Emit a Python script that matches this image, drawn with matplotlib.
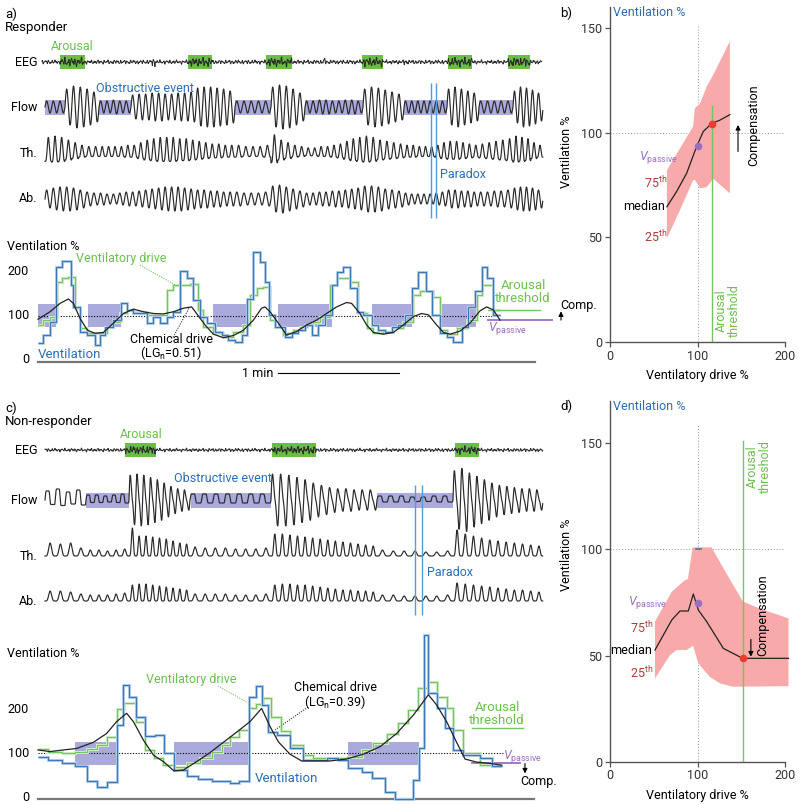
import numpy as np
import matplotlib.pyplot as plt

plt.rcParams['font.family'] = ['Roboto', 'DejaVu Sans']
plt.rcParams['font.size'] = 8.5
plt.rcParams['mathtext.fontset'] = 'custom'
plt.rcParams['mathtext.rm'] = 'Roboto'
plt.rcParams['mathtext.it'] = 'Roboto:italic'

BLUE = '#2f6db3'
BLUE_LINE = '#3b78b4'
BLUE_HALO = '#bcd4ec'
GREEN = '#6cc04f'
GREEN_LINE = '#74c462'
GREEN_HALO = '#d2ecc8'
GREEN_BOX = '#6abd45'
PURPLE = '#9a6fc2'
PURPLE_BOX = '#aaaadc'
PINK = '#f7aaa9'
RED = '#ee3b2f'
DARKRED = '#a8403a'
TRACE = '#2a2a2a'
PARADOX = '#5b9bd5'

# ---------------- data: panel a (responder) ----------------
# time in s (2 px per s on the page)
seg_a = [3.5, 13.5, 30.5, 46.5, 98.5, 116.5, 133.5, 162.5, 183, 204.5, 220.5, 237.5, 252.5]
flow_a_amp = [[6, 6, 6], [18, 21, 20, 18, 15], [6, 6, 7, 6, 6],
              [12, 13, 13, 14, 14, 13, 13, 14, 14, 15, 19, 20, 20, 19, 18, 16],
              [6, 6, 6, 6, 6], [20, 22, 21, 18, 14], [6, 6, 7, 7, 6, 6, 7, 7, 6],
              [18, 20, 19, 17, 15, 13], [6, 6, 6, 6, 6, 6, 6], [18, 20, 18, 16, 14],
              [6, 6, 6, 6, 6], [16, 20, 19, 17, 14]]
th_a_amp = [[12, 13, 12], [10, 8, 6, 5, 5], [5, 5, 5, 5, 6],
            [6, 8, 10, 11, 12, 12, 12, 11, 11, 10, 9, 8, 7, 7, 6, 6],
            [6, 5, 5, 5, 6], [14, 10, 8, 6, 5], [4, 4, 5, 5, 6, 7, 9, 11, 12],
            [13, 12, 10, 9, 8, 7], [6, 6, 5, 5, 5, 6, 8], [9, 9, 8, 7, 6],
            [7, 8, 9, 10, 11], [13, 12, 11, 8, 6]]
ab_a_amp = [[9, 11, 12], [12, 11, 9, 7, 6], [6, 5, 5, 6, 7],
            [7, 8, 9, 10, 11, 12, 12, 12, 11, 10, 9, 9, 8, 8, 7, 7],
            [7, 6, 6, 6, 7], [13, 14, 12, 10, 8], [6, 6, 7, 7, 8, 8, 9, 10, 11],
            [13, 13, 12, 10, 9, 8], [6, 5, 5, 5, 5, 6, 7], [9, 9, 8, 8, 7],
            [7, 7, 8, 8, 9], [11, 12, 12, 11, 9]]
arousal_a = [(11, 23.5), (75, 87), (114, 127), (162, 172.5), (205, 217), (235, 246)]
eeg_a_spikes = [(57, 58.5), (142, 143.5), (183, 184.5)]
obstr_a = [(3.5, 13.5), (30.5, 46.5), (98.5, 116.5), (133.5, 162.5), (183, 204.5), (220.5, 237.5)]
paradox_a = [196.5, 199]

vent_a_edges = [0, 2.7, 6, 9, 12.2, 16.5, 17.7, 21, 24.7, 28.5, 31, 33.5, 37.7, 41.3, 44.3, 47.7,
                54.3, 57.7, 61, 64.3, 67.7, 71, 74.3, 77.7, 81, 84.3, 88.5, 91.8, 95.2, 98.5,
                101.8, 104.3, 107.7, 111, 113.5, 115.7, 118.5, 123.5, 126.8, 130.2, 133.5, 136.8,
                140.2, 143.5, 146.8, 149.3, 152.7, 156, 159.3, 162.7, 166.8, 170.2, 173.5, 176.8,
                180.2, 183.5, 186.8, 190.2, 193.8, 196.8, 201, 204.3, 207.7, 211.8, 215.2, 218.5,
                221.8, 224.3, 227.7, 231]
vent_a = [37, 56, 86, 211, 224, 170, 120, 64, 56, 33, 56, 75, 90, 128, 113, 105, 83, 98, 83, 98,
          109, 202, 185, 136, 98, 83, 64, 56, 45, 41, 56, 139, 245, 223, 177, 101, 75, 52, 60, 67,
          79, 56, 79, 102, 170, 200, 211, 162, 109, 102, 79, 67, 62, 75, 79, 102, 162, 200, 155, 102,
          60, 52, 41, 75, 120, 155, 211, 185, 102]
drive_a_edges = [0, 2.7, 6, 9.3, 12.2, 15.2, 18.5, 21, 24.7, 28.5, 34.3, 37.7, 41, 44.3, 47.7, 54.3,
                 64.3, 67.7, 76, 80.2, 82.7, 87.7, 92.7, 97.7, 102.7, 106, 109.3, 112.7, 116, 118.5,
                 122.7, 124.3, 127.7, 131, 134.3, 137.7, 141, 146, 149.3, 156, 160.2, 164.3, 167.7,
                 172.7, 177.7, 182.7, 187.7, 191, 197.7, 201, 204.3, 209.3, 214.3, 219.3, 221.8,
                 227.7, 231]
drive_a = [79, 90, 98, 177, 185, 189, 117, 71, 60, 60, 75, 86, 105, 113, 109, 102, 158, 170, 171, 113,
           75, 60, 52, 64, 79, 147, 164, 166, 90, 75, 56, 60, 67, 75, 79, 86, 98, 170, 185, 177,
           105, 71, 60, 64, 71, 86, 147, 155, 143, 67, 58, 71, 90, 147, 170, 113]
chem_a_t = [0, 6, 11, 15.2, 17.7, 21, 24.7, 28.5, 32.7, 37.7, 42.7, 47.7, 52.7, 57.7, 62.7, 67.7,
            72.7, 76.8, 79.3, 83.5, 87.7, 92.7, 97.7, 102.7, 107.7, 111.8, 113.5, 116, 120.2, 124.3,
            129.3, 134.3, 139.3, 144.3, 149.3, 154.3, 156.8, 161, 164.3, 167.7, 172.7, 177.7, 182.7,
            187.7, 191.8, 195.2, 199.3, 202.7, 206, 211, 216, 221, 224.3, 227.7, 231]
chem_a = [92, 109, 128, 138, 128, 94, 67, 60, 62, 83, 105, 115, 109, 105, 104, 109, 117, 120, 105, 79,
          58, 50, 55, 67, 90, 117, 120, 109, 83, 56, 64, 79, 90, 105, 120, 130, 128, 105, 79, 62,
          58, 62, 79, 98, 105, 102, 79, 62, 58, 65, 83, 111, 120, 113, 90]
vobstr_a = [(0, 9), (25.2, 41.3), (87.7, 104.3), (120.2, 146.8), (166.8, 187.2), (201.8, 219)]
arousal_thr_a = 113
vpassive_a = 90

# ---------------- data: panel c (non-responder) ----------------
seg_c = [3.5, 24, 45.5, 76, 116.5, 169.5, 207.5, 252.5]
flow_c_kind = ['flat', 'flat', 'peak', 'flat', 'peak', 'flat', 'peak']
flow_c_amp = [[9, 11, 8, 10], [5, 5, 4, 5, 6], [22, 23, 22, 20, 18, 15, 12, 10, 9],
              [6, 6, 6, 6, 6, 6, 6], [23, 23, 22, 20, 18, 15, 13, 11, 10, 10, 9, 9, 9],
              [4, 4, 4, 3, 3, 4, 4], [26, 28, 24, 21, 18, 15, 13, 12, 11, 10, 10, 9]]
th_c_amp = [[13, 12, 13, 8], [6, 6, 5, 6, 7], [28, 20, 20, 19, 18, 17, 15, 13, 12],
            [9, 8, 8, 8, 7, 7, 7, 8], [22, 22, 21, 20, 19, 18, 17, 16, 15, 14, 13, 12, 11, 10],
            [6, 5, 5, 5, 4, 4, 5], [26, 22, 20, 18, 16, 15, 14, 13, 12, 11, 10]]
ab_c_amp = [[10, 10, 9, 7], [6, 6, 6, 7, 8], [16, 17, 17, 16, 15, 14, 13, 12, 11],
            [7, 7, 7, 7, 6, 6, 6, 7], [16, 17, 17, 16, 16, 15, 14, 13, 12, 11, 11, 10, 10, 9],
            [6, 6, 5, 5, 5, 5, 6], [18, 17, 16, 15, 14, 13, 12, 11, 11, 10, 9]]
arousal_c = [(43.5, 59), (117, 139), (208.5, 220.5)]
obstr_c = [(24, 45.5), (76.5, 116.5), (169.5, 207.5)]
paradox_c = [188.5, 192]

vent_c_edges = [0, 5.2, 11.8, 18.5, 24.3, 29.3, 34.7, 39.7, 42.3, 45.7, 49, 53.5, 58.5, 63, 68, 74.3,
                80.2, 86.8, 91.8, 96, 100.7, 105.7, 109, 111.8, 115.2, 119.3, 126, 132.7, 137.7,
                144.3, 150.2, 155.2, 161.8, 166.8, 173.5, 178.5, 187.7, 190.7, 193, 195.2, 199.3,
                203.5, 207.7, 212.7, 221, 226.8, 231.8]
vent_c = [91, 85, 77, 71, 36, 24, 34, 164, 255, 229, 183, 139, 142, 100, 62, 49, 41, 36, 37, 32,
          36, 229, 253, 210, 149, 142, 111, 85, 85, 90, 85, 66, 58, 45, 13, -4, 39, 111, 368, 236,
          202, 157, 108, 96, 89, 71]
drive_c_edges = [0, 5.2, 11.8, 18.5, 24.3, 29.3, 34.7, 39.7, 43, 49, 53.5, 58, 62.7, 68, 74.3, 81,
                 86.8, 91.8, 96, 100.7, 105.7, 109, 112.3, 116.3, 121.3, 126, 132.7, 137.7, 154.3,
                 161.8, 167.7, 174.3, 180.2, 185.2, 190.2, 195.2, 199.3, 204.3, 207.7, 212.7, 221,
                 231.8]
drive_c = [110, 104, 100, 104, 110, 119, 138, 200, 214, 172, 108, 89, 73, 70, 77, 90, 104, 119, 136,
           153, 202, 211, 225, 183, 150, 120, 96, 89, 92, 108, 123, 145, 168, 198, 249, 261, 229,
           202, 153, 100, 73]
chem_c_t = [0, 6, 12.7, 19.3, 27.7, 34.3, 39.3, 44.3, 47.7, 52.7, 57.7, 62.7, 68, 72.7, 79.3, 86,
            92.7, 99.3, 106, 111.8, 116, 120.2, 126, 131.8, 137.7, 146, 154.3, 162.7, 171, 179.3,
            187.7, 195.2, 199.3, 204.3, 209.3, 213.5, 219.3, 226, 231.8]
chem_c = [107.6, 104, 107.6, 111, 125, 145, 172, 191, 172, 130, 96, 81, 60, 62, 81, 101.5, 125, 148,
          172, 202, 161, 126, 98, 82.6, 82.6, 82.6, 87, 98, 115, 145, 187, 233, 210, 172, 125, 87,
          80, 77, 73]
vobstr_c = [(18.5, 39), (68, 105.5), (155, 190.5)]
arousal_thr_c = 158
vpassive_c = 77

# ---------------- data: panels b and d ----------------
b_up_x = [65, 95, 97, 103, 110.5, 118, 137]
b_up_y = [82, 103, 111.6, 114, 122, 127.6, 143.6]
b_lo_x = [65, 80, 95, 97, 103, 110.5, 118, 137]
b_lo_y = [49.5, 63, 77.3, 77.5, 73.4, 74, 78, 71]
b_med_x = [65, 76, 87.6, 99, 106.7, 116, 125.7, 137]
b_med_y = [64.6, 71.8, 80.6, 93.4, 100.6, 104.3, 106, 108.6]
b_vpass = (100, 93.4)
b_arousal = (116.2, 104)

d_up_x = [51.4, 70.5, 85.7, 89, 94.5, 116, 133, 152, 171, 204]
d_up_y = [66, 80, 85.6, 86, 101, 101, 88.7, 75.4, 72.2, 67.5]
d_lo_x = [51.4, 68.6, 76, 87.6, 95, 101, 114, 125.7, 141, 204]
d_lo_y = [39.2, 50.2, 52.6, 52.6, 54.6, 46.3, 40, 36.9, 35.3, 35.6]
d_med_x = [51.4, 70.5, 80, 89.5, 95.2, 101, 110.5, 129.5, 151.6, 204]
d_med_y = [52.6, 66.7, 71, 71, 79, 71.4, 66, 53.4, 48.7, 48.7]
d_vpass = (100.2, 74.6)
d_arousal = (151.6, 48.7)

# ---------------- helpers ----------------
W, H = 800, 805
fig = plt.figure(figsize=(8, 8.05), dpi=100)


def fbox(x0, y0, x1, y1):
    return [x0 / W, 1 - y1 / H, (x1 - x0) / W, (y1 - y0) / H]


def ftxt(x, y, s, **kw):
    kw.setdefault('va', 'center')
    fig.text(x / W, 1 - y / H, s, **kw)


def px(x):
    # page x (px) -> time (s)
    return (x - 38) / 2


def hump(p):
    return ((1 - np.cos(2 * np.pi * p)) / 2) ** 2


SHAPES = {
    'sine': lambda p: np.sin(2 * np.pi * p),
    'spiky': lambda p: 2 * hump(p) - 0.7,
    'flat': lambda p: np.clip(1.8 * np.sin(2 * np.pi * p), -0.5, 1),
    'peak': lambda p: np.sin(2 * np.pi * p) + 0.3 * np.sin(4 * np.pi * p),
    'hump': lambda p: hump(p) ** 1.3,
}


def breaths(edges, amps, kinds, n=24):
    if isinstance(kinds, str):
        kinds = [kinds] * len(amps)
    ts, ys = [], []
    p = np.linspace(0, 1, n, endpoint=False)
    for t0, t1, seg, kind in zip(edges[:-1], edges[1:], amps, kinds):
        d = (t1 - t0) / len(seg)
        for k, a in enumerate(seg):
            ts.append(t0 + (k + p) * d)
            ys.append(a * SHAPES[kind](p))
    return np.concatenate(ts), np.concatenate(ys)


def eeg(t0, t1, base, bursts, burst_amp, rate=6):
    t = np.arange(t0, t1, 1 / rate)
    env = np.full_like(t, base)
    for b0, b1 in bursts:
        env[(t >= b0) & (t <= b1)] = burst_amp
    wave = (0.55 * np.sin(2 * np.pi * 0.61 * t) + 0.35 * np.sin(2 * np.pi * 0.97 * t + 1.3)
            + 0.3 * np.sin(2 * np.pi * 1.43 * t + 0.4) + 0.25 * np.sin(2 * np.pi * 0.23 * t + 2.0))
    return t, env * wave


def trace_panel(y0, y1, rows, arousal, obstr, paradox, lab):
    ax = fig.add_axes(fbox(0, y0, 600, y1))
    ax.set_xlim(px(0), px(600))
    ax.set_ylim(y1, y0)
    ax.axis('off')
    ye, yf = rows['EEG'][0], rows['Flow'][0]
    for b0, b1 in arousal:
        ax.fill_between([b0, b1], ye - 7, ye + 7, color=GREEN_BOX, lw=0, zorder=1)
    for b0, b1 in obstr:
        ax.fill_between([b0, b1], yf - 7.5, yf + 7.5, color=PURPLE_BOX, lw=0, zorder=1)
    for name, (y, t, v) in rows.items():
        ax.plot(t, y - v, color=TRACE, lw=0.7 if name == 'EEG' else 0.85, zorder=2)
        ax.text(px(37), y, name, ha='right', va='center', fontsize=9)
    ax.vlines(paradox, lab['par_y'][0], lab['par_y'][1], color=PARADOX, lw=1.0, zorder=3)
    ax.text(px(lab['arousal'][0]), lab['arousal'][1], 'Arousal', color=GREEN, va='center',
            fontsize=9)
    ax.text(px(lab['obstr'][0]), lab['obstr'][1], 'Obstructive event', color=BLUE, va='center',
            fontsize=9)
    ax.text(px(lab['par'][0]), lab['par'][1], 'Paradox', color=BLUE, va='center', fontsize=9)
    return ax


def vent_panel(y0, y1, v0, k, vobstr, d_e, d_v, v_e, v_v, c_t, c_v):
    ax = fig.add_axes(fbox(0, y0, 600, y1))
    ax.set_xlim(px(0), px(600))
    ax.set_ylim((v0 - y1) / k, (v0 - y0) / k)
    ax.axis('off')
    for b0, b1 in vobstr:
        ax.fill_between([b0, b1], 73.5, 126, color=PURPLE_BOX, lw=0, zorder=1)
    ax.stairs(d_v, d_e, baseline=None, color=GREEN_HALO, lw=2.2, zorder=2)
    ax.stairs(d_v, d_e, baseline=None, color=GREEN_LINE, lw=0.8, zorder=3)
    ax.stairs(v_v, v_e, baseline=None, color=BLUE_HALO, lw=2.2, zorder=4)
    ax.stairs(v_v, v_e, baseline=None, color=BLUE_LINE, lw=0.9, zorder=5)
    ax.plot(c_t, c_v, color='#222', lw=0.9, zorder=6)
    for v in (0, 100, 200):
        ax.text(px(29), v, str(v), ha='right', va='center', fontsize=9)
    return ax


# ---------------- panel a ----------------
ftxt(5, 14, 'a)', fontsize=9.5)
ftxt(5, 27, 'Responder', fontsize=9.5)
t_e, v_e = eeg(2, 252, 1.8, arousal_a + eeg_a_spikes, 4.0)
t_f, v_f = breaths(seg_a, flow_a_amp, 'sine')
t_t, v_t = breaths(seg_a, th_a_amp, 'spiky')
t_b, v_b = breaths(seg_a, ab_a_amp, 'sine')
trace_panel(30, 240, {'EEG': (62, t_e, v_e), 'Flow': (107, t_f, v_f),
                      'Th.': (153, t_t, v_t), 'Ab.': (199, t_b, v_b)},
            arousal_a, obstr_a, paradox_a,
            {'par_y': (83, 218), 'arousal': (51, 46), 'obstr': (96, 88), 'par': (440, 175)})

ax = vent_panel(238, 390, 359.7, 0.44, vobstr_a, drive_a_edges, drive_a,
                vent_a_edges, vent_a, chem_a_t, chem_a)
ax.plot([0, px(493)], [100, 100], ls=(0, (1, 1.5)), color='k', lw=0.8, zorder=1.5)
ax.plot([px(488), px(540)], [arousal_thr_a] * 2, color=GREEN_LINE, lw=1)
ax.plot([px(488), px(552)], [vpassive_a] * 2, color=PURPLE, lw=1.3)
ax.annotate('', xy=(px(561), 110), xytext=(px(561), vpassive_a), annotation_clip=False,
            arrowprops=dict(arrowstyle='-|>', lw=0.8, color='k', mutation_scale=7, shrinkA=0, shrinkB=0))
ax.text(px(560), 124, 'Comp.', va='center', fontsize=9)
ax.text(px(523), 155, 'Arousal\nthreshold', color=GREEN, ha='center', va='center',
        fontsize=9.5, linespacing=1.0)
ax.text(px(488), 72, r'$V_{\mathrm{passive}}$', color=PURPLE, va='center', fontsize=9)
ax.plot([0, px(535)], [-5, -5], color='#777', lw=1.6)
ax.text(px(7), 258, 'Ventilation %', va='center', fontsize=9)
ax.text(px(38), 11, 'Ventilation', color=BLUE, va='center', fontsize=9.5)
ax.text(px(121), 231, 'Ventilatory drive', color=GREEN, ha='center', va='center', fontsize=9)
ax.plot([px(140), px(177)], [215, 167.5], ls=(0, (1, 1.2)), color=GREEN_LINE, lw=0.8)
ax.text(px(172), 47, 'Chemical drive', ha='center', va='center', fontsize=9)
ax.text(px(171), 15, r'(LG$_{\mathrm{n}}$=0.51)', ha='center', va='center', fontsize=9)
ax.plot([px(173), px(189)], [51, 117], ls=(0, (1, 1.2)), color='#333', lw=0.8)
ax.text(px(273), -30.7, '1 min', ha='right', va='center', fontsize=9)
ax.plot([px(278), px(399)], [-30.7, -30.7], color='k', lw=0.8)

# ---------------- panel c ----------------
ftxt(5, 408, 'c)', fontsize=9.5)
ftxt(5, 421, 'Non-responder', fontsize=9.5)
t_e, v_e = eeg(3.5, 252.5, 1.5, arousal_c, 3.5)
t_f, v_f = breaths(seg_c, flow_c_amp, flow_c_kind)
t_t, v_t = breaths(seg_c, th_c_amp, 'hump')
t_b, v_b = breaths(seg_c, ab_c_amp, 'hump')
trace_panel(400, 630, {'EEG': (450, t_e, v_e), 'Flow': (500, t_f, v_f),
                       'Th.': (556, t_t, v_t), 'Ab.': (601, t_b, v_b)},
            arousal_c, obstr_c, paradox_c,
            {'par_y': (485, 615), 'arousal': (120, 434), 'obstr': (174, 478), 'par': (427, 572)})

ax = vent_panel(625, 805, 797.3, 0.44, vobstr_c, drive_c_edges, drive_c,
                vent_c_edges, vent_c, chem_c_t, chem_c)
ax.plot([0, px(503)], [100, 100], ls=(0, (1, 1.5)), color='k', lw=0.8, zorder=1.5)
ax.plot([px(472), px(523)], [arousal_thr_c] * 2, color=GREEN_LINE, lw=1)
ax.plot([px(472), px(520)], [vpassive_c] * 2, color=PURPLE, lw=1.3)
ax.annotate('', xy=(px(525), 54), xytext=(px(525), vpassive_c), annotation_clip=False,
            arrowprops=dict(arrowstyle='-|>', lw=0.8, color='k', mutation_scale=7, shrinkA=0, shrinkB=0))
ax.text(px(520), 37, 'Comp.', va='center', fontsize=9)
ax.text(px(497), 189, 'Arousal\nthreshold', color=GREEN, ha='center', va='center',
        fontsize=9.5, linespacing=1.0)
ax.text(px(503), 92, r'$V_{\mathrm{passive}}$', color=PURPLE, va='center', fontsize=9)
ax.plot([0, px(534)], [-4, -4], color='#777', lw=1.6)
ax.text(px(7), 325.7, 'Ventilation %', va='center', fontsize=9)
ax.text(px(255), 41.6, 'Ventilation', color=BLUE, va='center', fontsize=9.5)
ax.text(px(191), 268.8, 'Ventilatory drive', color=GREEN, ha='center', va='center', fontsize=9)
ax.plot([px(218), px(250)], [253, 212], ls=(0, (1, 1.2)), color=GREEN_LINE, lw=0.8)
ax.text(px(336), 249, 'Chemical drive', ha='center', va='center', fontsize=9)
ax.text(px(335), 216.6, r'(LG$_{\mathrm{n}}$=0.39)', ha='center', va='center', fontsize=9)
ax.plot([px(308), px(275)], [205, 153], ls=(0, (1, 1.2)), color='#333', lw=0.8)


# ---------------- panels b and d ----------------
def right_panel(y_top, y_zero, ymax, up_x, up_y, lo_x, lo_y, med_x, med_y, vpass, arousal,
                thr_top, grid_top):
    ax = fig.add_axes(fbox(610, y_top, 785, y_zero))
    ax.set_xlim(0, 200)
    ax.set_ylim(0, ymax)
    ax.patch.set_visible(False)
    for s in ('top', 'right'):
        ax.spines[s].set_visible(False)
    for s in ('left', 'bottom'):
        ax.spines[s].set_color('#555')
        ax.spines[s].set_linewidth(1.0)
    ax.set_xticks([0, 100, 200])
    ax.set_yticks([0, 50, 100, 150])
    ax.tick_params(direction='out', length=3.6, width=0.9, color='#555', labelsize=9,
                   labelcolor='#333', pad=2)
    ax.plot([100, 100], [0, grid_top], ls=(0, (1, 2)), color='#999', lw=0.7, zorder=1)
    ax.plot([0, 200], [100, 100], ls=(0, (1, 2)), color='#999', lw=0.7, zorder=1)
    ax.fill(np.r_[up_x, lo_x[::-1]], np.r_[up_y, lo_y[::-1]], color=PINK, lw=0, zorder=2,
            clip_on=False)
    ax.plot(med_x, med_y, color='#222', lw=0.9, zorder=3, clip_on=False)
    ax.plot([arousal[0]] * 2, [0, thr_top], color=GREEN_LINE, lw=1.0, zorder=3)
    ax.plot(*vpass, 'o', ms=5.5, color=PURPLE, mec='none', zorder=4)
    ax.plot(*arousal, 'o', ms=5.5, color=RED, mec='none', zorder=4)
    return ax


ax = right_panel(342 - 2.0933 * 160, 342, 160, b_up_x, b_up_y, b_lo_x, b_lo_y,
                 b_med_x, b_med_y, b_vpass, b_arousal, 112.6, 152)
ax.text(78, 87.9, r'$V_{\mathrm{passive}}$', color=PURPLE, ha='right', va='center', fontsize=9)
ax.text(65, 76, r'75$^{\mathrm{th}}$', color=DARKRED, ha='right', va='center', fontsize=9)
ax.text(63, 64.5, 'median', ha='right', va='center', fontsize=9)
ax.text(65, 50.2, r'25$^{\mathrm{th}}$', color=DARKRED, ha='right', va='center', fontsize=9)
ax.text(134.3, 2.4, 'Arousal\nthreshold', color=GREEN, rotation=90, ha='center', va='bottom',
        fontsize=9, linespacing=1.0)
ax.text(164.6, 103.7, 'Compensation', rotation=90, ha='center', va='center', fontsize=9)
ax.annotate('', xy=(146.3, 103.7), xytext=(146.3, 91),
            arrowprops=dict(arrowstyle='-|>', lw=0.8, color='k', mutation_scale=7, shrinkA=0, shrinkB=0))
ftxt(560, 13, 'b)', fontsize=9.5)
ftxt(613, 13, 'Ventilation %', color=BLUE, fontsize=9)
ftxt(567, 152, 'Ventilation %', rotation=90, ha='center', fontsize=9)
ftxt(697, 375, 'Ventilatory drive %', ha='center', fontsize=9)

ax = right_panel(761.7 - 2.1227 * 170, 761.7, 170, d_up_x, d_up_y, d_lo_x, d_lo_y,
                 d_med_x, d_med_y, d_vpass, d_arousal, 151, 159)
ax.plot([98, 104], [100, 100], color=BLUE_LINE, lw=1.2, zorder=3)
ax.text(65.1, 75.2, r'$V_{\mathrm{passive}}$', color=PURPLE, ha='right', va='center', fontsize=9)
ax.text(49.1, 63, r'75$^{\mathrm{th}}$', color=DARKRED, ha='right', va='center', fontsize=9)
ax.text(48, 52.2, 'median', ha='right', va='center', fontsize=9)
ax.text(49.1, 41.8, r'25$^{\mathrm{th}}$', color=DARKRED, ha='right', va='center', fontsize=9)
ax.text(170.3, 151.5, 'Arousal\nthreshold', color=GREEN, rotation=90, ha='center', va='top',
        fontsize=9, linespacing=1.0)
ax.text(174.9, 69.1, 'Compensation', rotation=90, ha='center', va='center', fontsize=9)
ax.annotate('', xy=(161, 49.5), xytext=(161, 57.6),
            arrowprops=dict(arrowstyle='-|>', lw=0.8, color='k', mutation_scale=7, shrinkA=0, shrinkB=0))
ftxt(560, 406, 'd)', fontsize=9.5)
ftxt(613, 406, 'Ventilation %', color=BLUE, fontsize=9)
ftxt(567, 555, 'Ventilation %', rotation=90, ha='center', fontsize=9)
ftxt(697, 795, 'Ventilatory drive %', ha='center', fontsize=9)

fig.savefig('out.png', dpi=100)
